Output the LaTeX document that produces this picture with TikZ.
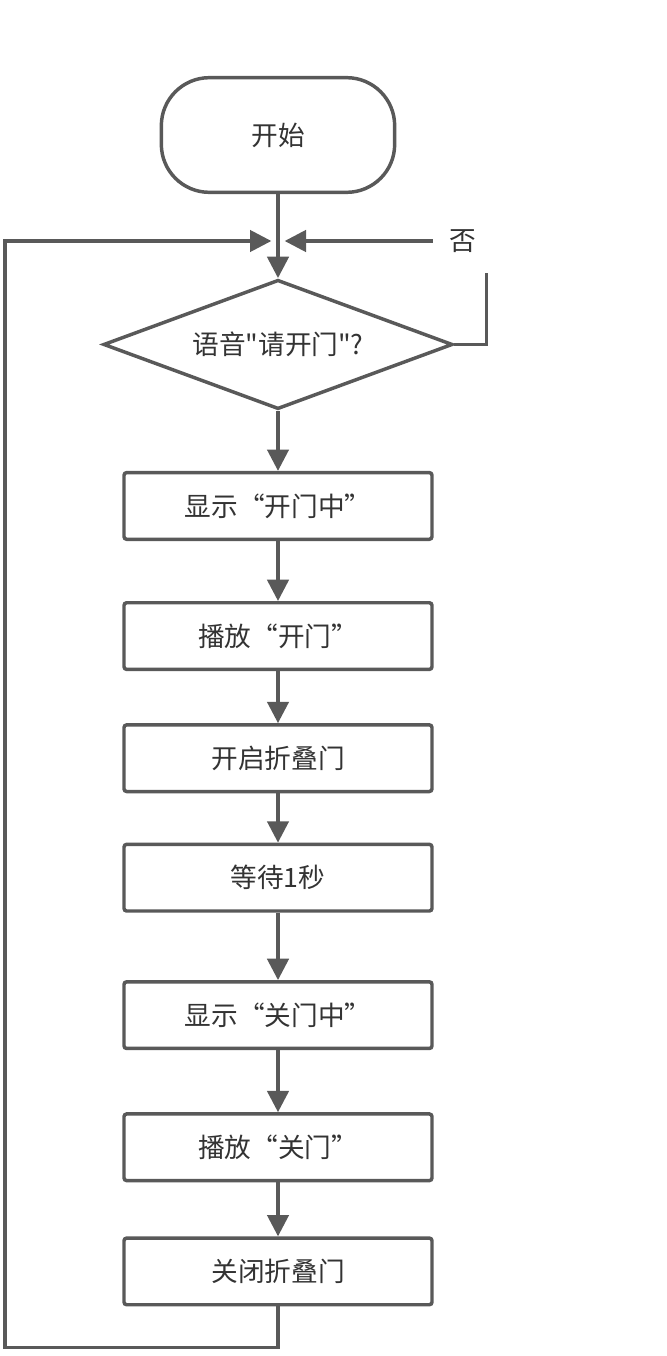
\documentclass[tikz,border=0pt]{standalone}
\usepackage{fontspec}
\setmainfont{Noto Sans CJK SC}[Ligatures=TeXOff]
\usetikzlibrary{shapes.geometric, arrows.meta, positioning}
\definecolor{linegray}{HTML}{595959}
\definecolor{textgray}{HTML}{333333}

\begin{document}
\begin{tikzpicture}[x=0.75pt, y=-0.75pt, node distance=44pt, font=\fontsize{20}{24}\selectfont, text=textgray]

    % --- Estilos ---
    \tikzset{
        startstop/.style={rectangle, rounded corners=36pt, minimum width=175pt, minimum height=86pt, text centered, draw=linegray, line width=2.6pt, fill=white},
        process/.style={rectangle, rounded corners=2pt, minimum width=231pt, minimum height=50pt, text centered, draw=linegray, line width=2.6pt, fill=white},
        decision/.style={diamond, aspect=2.67, minimum width=262pt, minimum height=97pt, inner sep=0pt, text centered, draw=linegray, line width=2.6pt, fill=white},
        arrow/.style={draw=linegray, line width=2.6pt, -{Triangle[length=16pt, width=16pt]}},
        line/.style={draw=linegray, line width=2.6pt},
        answer/.style={inner xsep=12.5pt}
    }

    \useasboundingbox (0,0) rectangle (667,1356);

    % --- Nodos ---
    \node (start) [startstop] at (278,135) {开始};
    \node (voice) [decision, below=63pt of start] {语音"请开门"?};
    \node (dispopen) [process, below=45pt of voice] {显示“开门中”};
    \node (playopen) [process, below=45pt of dispopen] {播放“开门”};
    \node (opendoor) [process, below=39pt of playopen] {开启折叠门};
    \node (wait) [process, below=37pt of opendoor] {等待1秒};
    \node (dispclose) [process, below=50.5pt of wait] {显示“关门中”};
    \node (playclose) [process, below=46.5pt of dispclose] {播放“关门”};
    \node (closedoor) [process, below=40.5pt of playclose] {关闭折叠门};

    \coordinate (join) at (278,241);
    \coordinate (leftrail) at (5,241);
    \node (no) [answer] at (463,241) {否};

    % --- Conexiones ---
    \draw [arrow] (start) -- (voice);
    \draw [arrow] (voice) -- (dispopen);
    \draw [arrow] (dispopen) -- (playopen);
    \draw [arrow] (playopen) -- (opendoor);
    \draw [arrow] (opendoor) -- (wait);
    \draw [arrow] (wait) -- (dispclose);
    \draw [arrow] (dispclose) -- (playclose);
    \draw [arrow] (playclose) -- (closedoor);

    % Rama "no": vuelve a preguntar
    \draw [line] (voice.east) -- ++(32,0) -- ++(0,-71);
    \draw [arrow] (no.west) -- ([xshift=5pt]join);

    % Bucle de retorno
    \draw [arrow] (closedoor.south) -- ++(0,41) -| (leftrail) -- ([xshift=-5pt]join);

\end{tikzpicture}
\end{document}
